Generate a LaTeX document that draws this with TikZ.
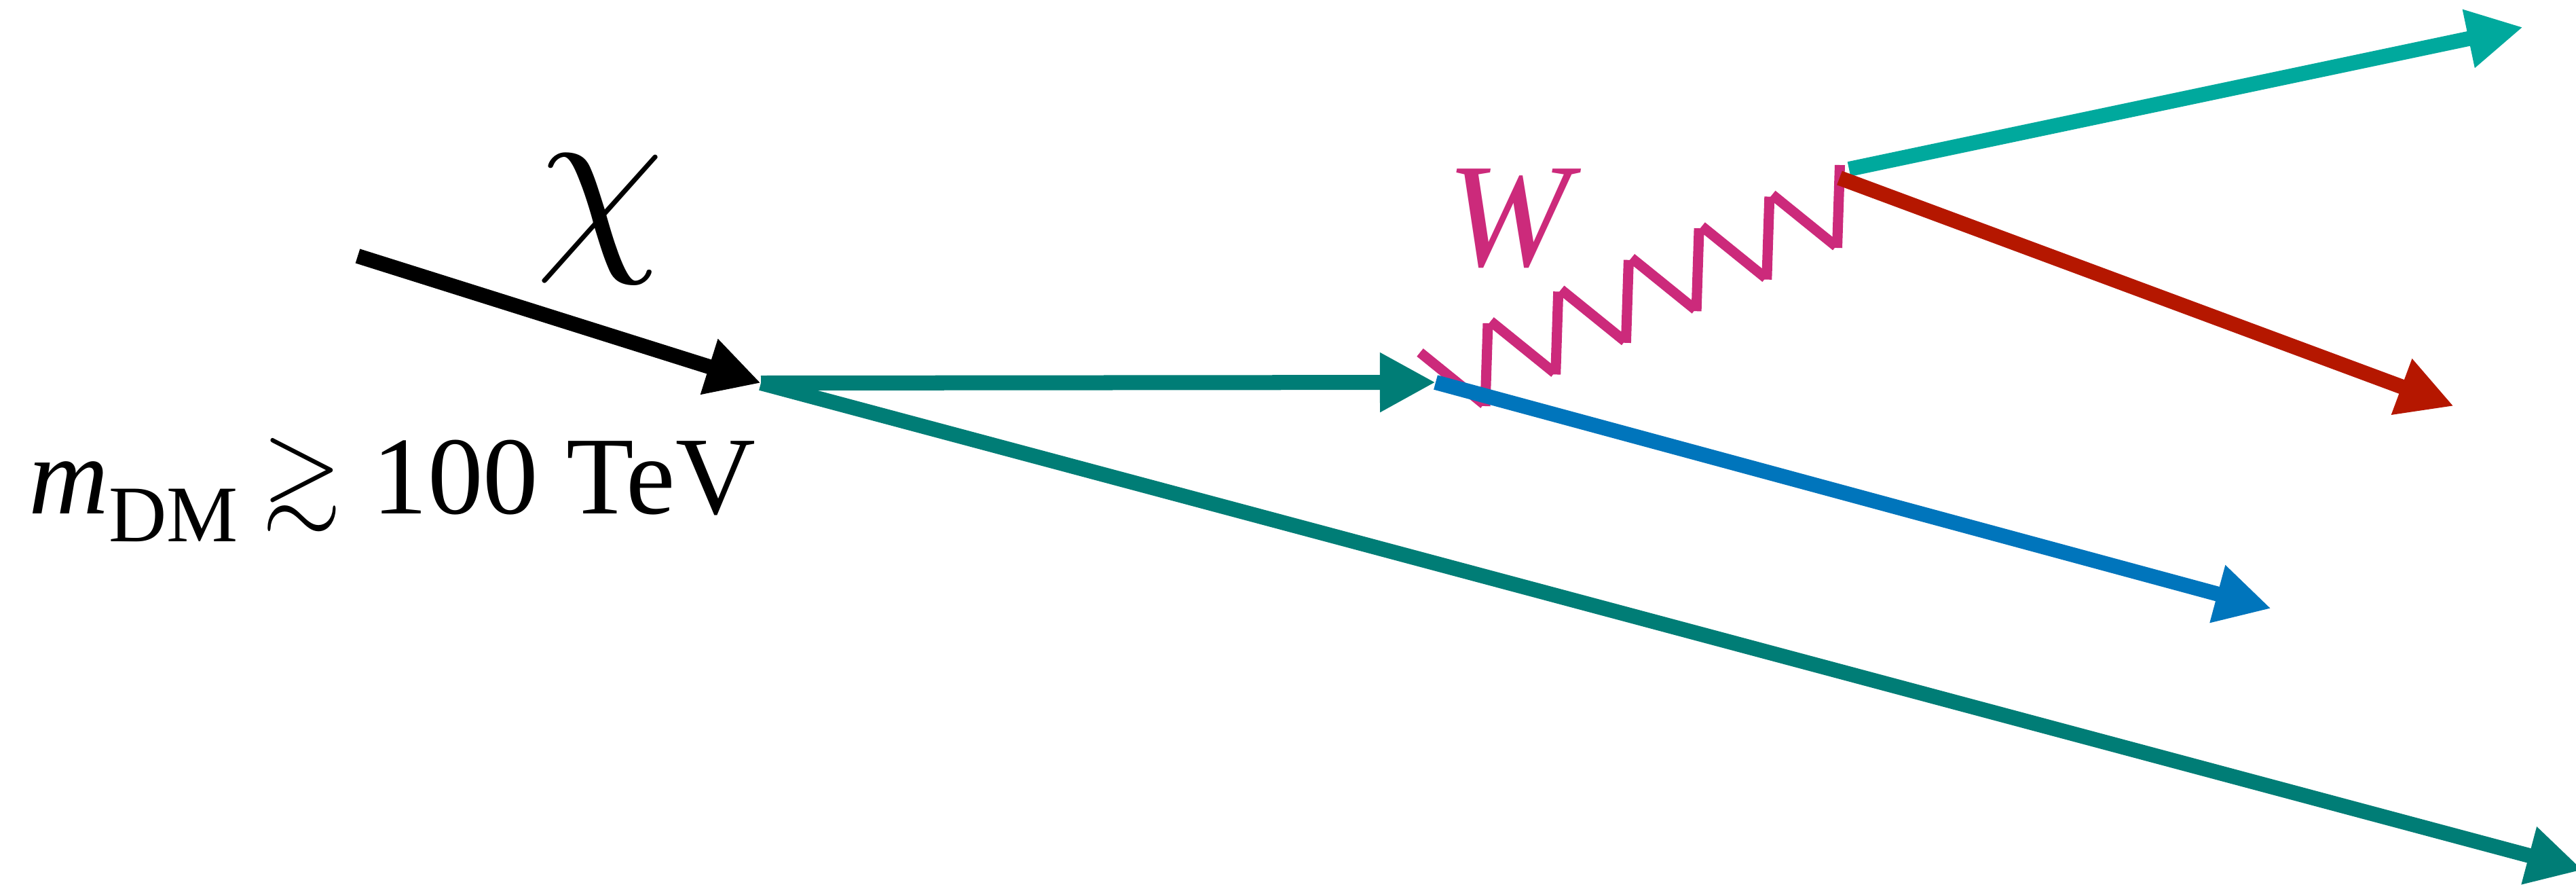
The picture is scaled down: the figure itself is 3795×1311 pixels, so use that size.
\documentclass[tikz,border=0pt]{standalone}
\usepackage{fontspec}
\usepackage{graphicx}
\setmainfont{Liberation Serif}
\usetikzlibrary{arrows.meta}
\definecolor{tealdark}{RGB}{0,125,118}
\definecolor{tealup}{RGB}{0,169,157}
\definecolor{blueline}{RGB}{0,117,188}
\definecolor{redline}{RGB}{181,23,0}
\definecolor{magw}{RGB}{204,42,123}
\newcommand{\mygtrsim}{\scalebox{4.27}[4.64]{\fontsize{10}{12}\selectfont\rlap{\raisebox{1.41pt}{$>$}}\raisebox{-2.99pt}{$\sim$}}}
\begin{document}
\begin{tikzpicture}[x=0.01cm,y=-0.01cm,
  prt/.style={line width=0.22cm},
  tipb/.style={-{Triangle[length=0.82cm,width=0.82cm]}},
  zz/.style={magw,line width=0.15cm,line cap=butt},
  lbl/.style={inner sep=0pt}]
\fill[white] (0,0) rectangle (3795,1311);
\useasboundingbox (0,0) rectangle (3795,1311);
% vertices
\coordinate (a) at (527,377);
\coordinate (v) at (1121,564);
\coordinate (w1) at (2115,563);
\coordinate (r0) at (2710,262);
\coordinate (t0) at (2724,249);
\coordinate (e1) at (3717,40);
\coordinate (e2) at (3615,598);
\coordinate (e3) at (3346,896);
\coordinate (e4) at (3805,1281);
% W boson zigzag (separate straight strokes)
\draw[zz] (2092,519) -- (2186,595)
  (2188,598) -- (2192,476)   (2196,473) -- (2290,549)
  (2291.7,551.4) -- (2295.7,429.4)   (2299.7,426.4) -- (2393.7,502.4)
  (2395.4,504.8) -- (2399.4,382.8)   (2403.4,379.8) -- (2497.4,455.8)
  (2499.1,458.2) -- (2503.1,336.2)   (2507.1,333.2) -- (2601.1,409.2)
  (2602.8,411.6) -- (2606.8,289.6)   (2610.8,286.6) -- (2704.8,362.6)
  (2706.5,365) -- (2710.5,243);
% incoming chi
\draw[prt,black,-{Triangle[length=0.8cm,width=0.8cm]}] (a) -- (v);
% outgoing dark teal
\draw[prt,tealdark,tipb] (v) -- (e4);
\draw[prt,tealdark,tipb] (v) -- (w1);
% blue
\draw[prt,blueline,tipb] (w1) -- (e3);
% W decay products
\draw[prt,tealup,tipb] (t0) -- (e1);
\draw[prt,redline,tipb] (r0) -- (e2);
% labels
\node[lbl] (chi) at (884,323) {\scalebox{8.6}{$\chi$}};
\node[lbl,text=magw] (wlab) at (2222,322) {\fontsize{62}{62}\selectfont\itshape W};
\node[lbl,anchor=base west] (mass) at (42,756)
  {\fontsize{46.4}{50}\selectfont\itshape m\upshape\raisebox{-11.7pt}{\fontsize{33.6}{36}\selectfont DM}\hspace{10pt}\mygtrsim\hspace{13pt}100 TeV};
\end{tikzpicture}
\end{document}
